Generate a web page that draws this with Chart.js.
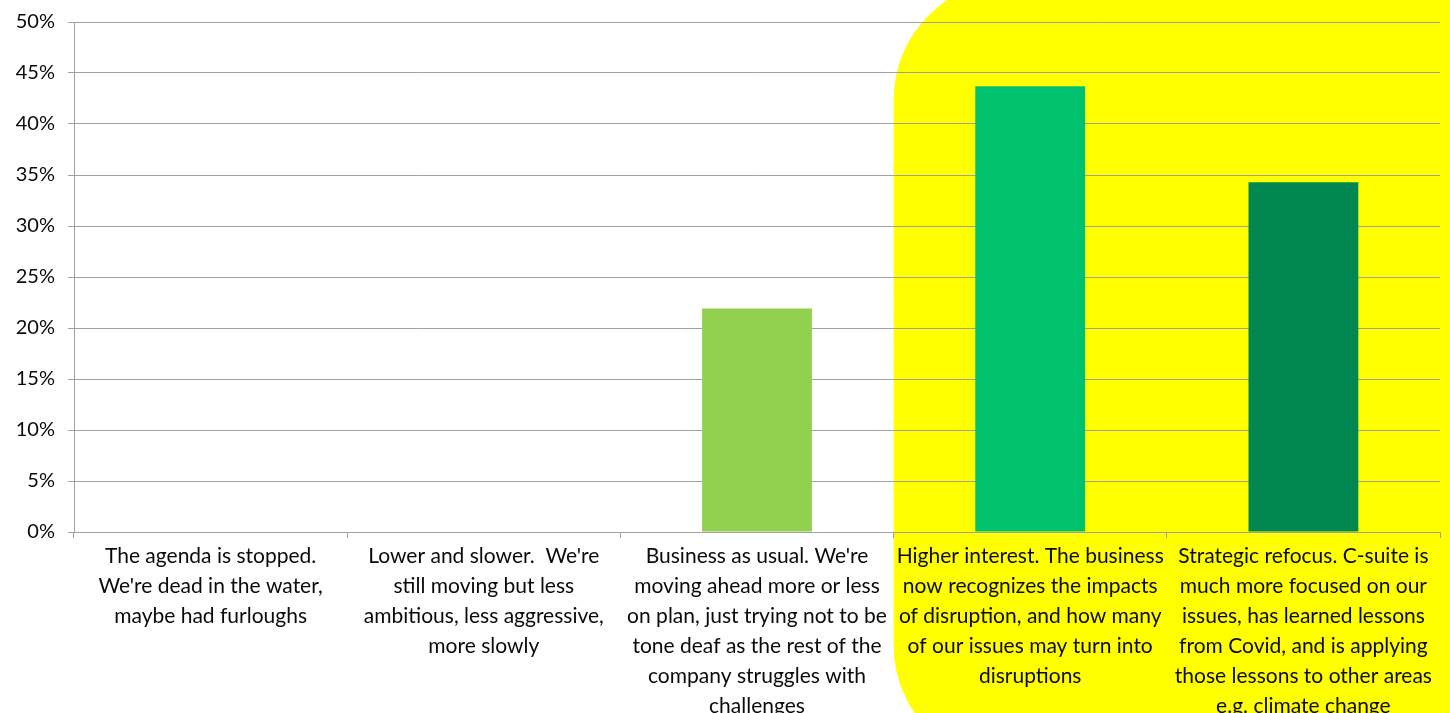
<!DOCTYPE html>
<html>
<head>
<meta charset="utf-8">
<script src="https://cdn.jsdelivr.net/npm/chart.js@4/dist/chart.umd.min.js"></script>
<style>
  html, body { margin: 0; padding: 0; background: #ffffff; overflow: hidden; }
  #wrap { width: 1450px; height: 713px; position: relative; }
</style>
</head>
<body>
<div id="wrap"><canvas id="c" width="1450" height="713"></canvas></div>
<script>
// Categories (each label split into its wrapped lines)
const categories = [
  ["The agenda is stopped.", "We're dead in the water,", "maybe had furloughs"],
  ["Lower and slower.  We're", "still moving but less", "ambitious, less aggressive,", "more slowly"],
  ["Business as usual. We're", "moving ahead more or less", "on plan, just trying not to be", "tone deaf as the rest of the", "company struggles with", "challenges"],
  ["Higher interest. The business", "now recognizes the impacts", "of disruption, and how many", "of our issues may turn into", "disruptions"],
  ["Strategic refocus. C-suite is", "much more focused on our", "issues, has learned lessons", "from Covid, and is applying", "those lessons to other areas", "e.g. climate change"]
];
// Share of respondents, percent
const shares = [0, 0, 21.9, 43.7, 34.3];
const barColors = ["#92d050", "#92d050", "#92d050", "#00c16e", "#008850"];
// Y axis ticks, percent
const yTicks = [0, 5, 10, 15, 20, 25, 30, 35, 40, 45, 50];

const FONT = "Lato, 'Open Sans', sans-serif";

// Highlight panel behind the last two categories
const highlightPanel = {
  id: 'highlightPanel',
  beforeDraw(chart) {
    const { ctx } = chart;
    const x = chart.scales.x;
    const half = (x.getPixelForValue(1) - x.getPixelForValue(0)) / 2;
    const left = x.getPixelForValue(3) - half;
    const top = -20, right = chart.width + 200, bottom = 765, r = 120;
    ctx.save();
    ctx.fillStyle = '#ffff00';
    ctx.beginPath();
    ctx.moveTo(left + r, top);
    ctx.lineTo(right, top);
    ctx.lineTo(right, bottom);
    ctx.lineTo(left + r, bottom);
    ctx.arcTo(left, bottom, left, bottom - r, r);
    ctx.lineTo(left, top + r);
    ctx.arcTo(left, top, left + r, top, r);
    ctx.closePath();
    ctx.fill();
    ctx.restore();
  }
};

new Chart(document.getElementById('c'), {
  type: 'bar',
  data: {
    labels: categories,
    datasets: [{
      data: shares,
      backgroundColor: barColors,
      borderWidth: 0,
      barPercentage: 0.402,
      categoryPercentage: 1.0
    }]
  },
  options: {
    responsive: false,
    animation: false,
    devicePixelRatio: 1,
    layout: { padding: { top: 22, right: 10, left: 0, bottom: 0 } },
    plugins: {
      legend: { display: false },
      tooltip: { enabled: false }
    },
    scales: {
      x: {
        offset: true,
        grid: {
          offset: true,
          drawOnChartArea: false,
          drawTicks: true,
          tickLength: 6,
          color: '#a0a0a0',
          lineWidth: 1
        },
        border: { color: '#a0a0a0', width: 1 },
        ticks: {
          maxRotation: 0,
          autoSkip: false,
          color: '#0a0a0a',
          padding: 3,
          font: { family: FONT, size: 21, lineHeight: 1.43 }
        },
        afterFit(scale) { scale.height = 181; }
      },
      y: {
        min: 0,
        max: 50,
        afterBuildTicks(scale) { scale.ticks = yTicks.map(v => ({ value: v })); },
        grid: {
          color: '#a0a0a0',
          lineWidth: 1,
          drawTicks: true,
          tickLength: 6
        },
        border: { color: '#a0a0a0', width: 1 },
        ticks: {
          color: '#0a0a0a',
          padding: 13,
          font: { family: FONT, size: 20 },
          callback: v => v + '%'
        },
        afterFit(scale) {
          scale.width = 74;
          scale.paddingTop = 0;
          scale.paddingBottom = 0;
        }
      }
    }
  },
  plugins: [highlightPanel]
});
</script>
</body>
</html>
